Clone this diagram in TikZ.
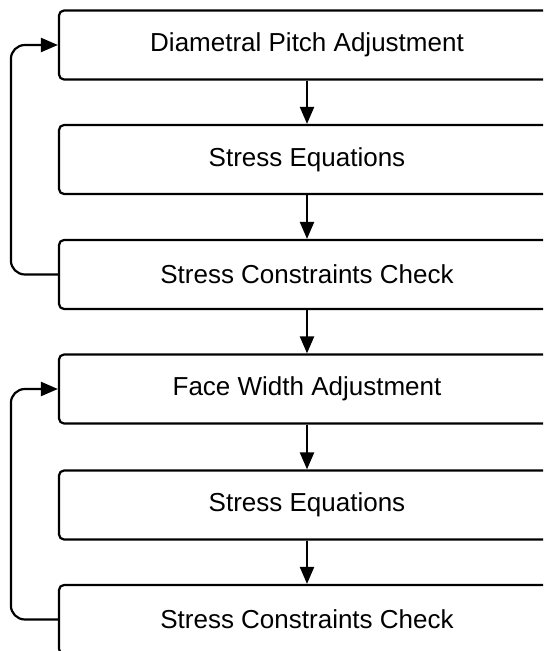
\documentclass[tikz,border=0pt]{standalone}
\usepackage{fontspec}
\setmainfont{Liberation Sans}
\usetikzlibrary{arrows.meta}

\tikzset{
  stepbox/.style={draw, line width=1.1pt, rounded corners=2.5pt, minimum width=248pt,
    minimum height=34.5pt, font=\fontsize{13}{15.6}\selectfont},
  flowarrow/.style={line width=1.1pt, -{Triangle[length=8.5pt,width=7pt]}}
}

\begin{document}
\begin{tikzpicture}[x=0.5pt,y=-0.5pt]
   \useasboundingbox (0,0) rectangle (543,651);
   \clip (0,0) rectangle (543,651);

   \node[stepbox] (dpa) at (307,45) {Diametral Pitch Adjustment};
   \node[stepbox] (seqa) at (307,159.5) {Stress Equations};
   \node[stepbox] (scca) at (307,274.5) {Stress Constraints Check};

   \node[stepbox] (fwa) at (307,389) {Face Width Adjustment};
   \node[stepbox] (seqb) at (307,505) {Stress Equations};
   \node[stepbox] (sccb) at (307,619.5) {Stress Constraints Check};

   \draw[flowarrow] (dpa) -- (seqa);
   \draw[flowarrow] (seqa) -- (scca);
   \draw[flowarrow] (scca) -- (fwa);
   \draw[flowarrow] (fwa) -- (seqb);
   \draw[flowarrow] (seqb) -- (sccb);

   %loop back to the adjustment step
   \draw[flowarrow, rounded corners=7pt] (scca.west) -- ++(-47,0) |- (dpa.west);
   \draw[flowarrow, rounded corners=7pt] (sccb.west) -- ++(-47,0) |- (fwa.west);
\end{tikzpicture}
\end{document}
